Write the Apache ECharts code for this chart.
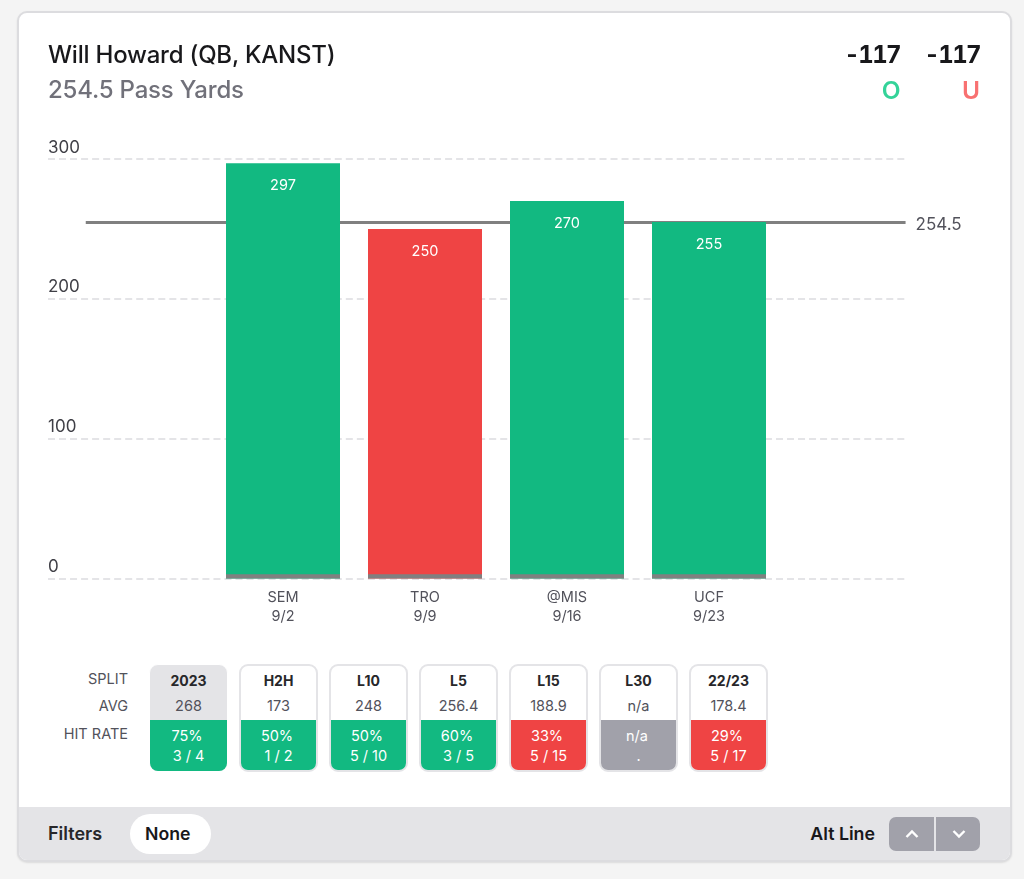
<!DOCTYPE html>
<html>
<head>
<meta charset="utf-8">
<title>Will Howard Pass Yards</title>
<script src="https://cdn.jsdelivr.net/npm/echarts@6/dist/echarts.min.js"></script>
<style>
  * { box-sizing: border-box; }
  html, body { margin: 0; width: 1024px; height: 879px; overflow: hidden; background: #f4f4f4; font-family: Inter, "Noto Sans", sans-serif; }
  .card { position: absolute; left: 17px; top: 11px; width: 995px; height: 851px; background: #fff; border: 2px solid #dcdcdf; border-radius: 10px; overflow: hidden; box-shadow: 0 1px 2px rgba(0,0,0,.1); }
  .txt { position: absolute; white-space: nowrap; line-height: 30px; height: 30px; }
  .odds { font-size: 24px; font-weight: 700; color: #18181b; font-variant-numeric: tabular-nums; letter-spacing: -1.6px; }
  #chart { position: absolute; left: 0; top: 0; width: 1024px; height: 660px; }
  .rowlabel { position: absolute; right: 896px; font-size: 14.5px; line-height: 18px; color: #52525b; }
  .split { position: absolute; top: 664px; width: 79px; height: 108px; border: 2px solid #e4e4e7; border-radius: 9px; overflow: hidden; text-align: center; background: #fff; color: #3f3f46; }
  .split.active { background: #e4e4e7; border: 1px solid #fff; border-radius: 9px; }
  .split .name { position: absolute; left: 0; right: 0; top: 6px; font-size: 14px; line-height: 18px; font-weight: 700; color: #27272a; }
  .split .avg { position: absolute; left: 0; right: 0; top: 31px; font-size: 14.5px; line-height: 18px; color: #52525b; }
  .split .hit { position: absolute; left: 0; right: 0; top: 54px; bottom: 0; color: #fff; font-size: 14.5px; line-height: 20px; padding-top: 6px; }
  .split.active .name { top: 7px; }
  .split.active .avg { top: 32px; }
  .split.active .hit { top: 55px; }
  .split .hit div:first-child { padding-right: 3px; }
  .footer { position: absolute; left: 19px; top: 807px; width: 991px; height: 53px; background: #e4e4e7; border-radius: 0 0 8px 8px; }
  .pill { position: absolute; left: 130px; top: 814px; width: 81px; height: 40px; border-radius: 20px; background: #fff; }
  .btn { position: absolute; top: 817px; height: 34px; background: #a1a1aa; }
  .btn svg { position: absolute; left: 16px; top: 11px; }
</style>
</head>
<body>
<div class="card"></div>
<div class="footer"></div>
<div id="chart"></div>

<div class="txt" style="left:48px;top:40px;font-size:24px;font-weight:500;letter-spacing:-0.22px;color:#18181b;">Will Howard (QB, KANST)</div>
<div class="txt" style="left:48px;top:75px;font-size:24px;font-weight:500;letter-spacing:-0.2px;color:#71717a;">254.5 Pass Yards</div>
<div class="txt odds" style="right:124px;top:40px;">-117</div>
<div class="txt odds" style="right:44px;top:40px;">-117</div>
<div class="txt" style="right:123.5px;top:75px;font-size:24.5px;font-weight:600;color:#34d399;">O</div>
<div class="txt" style="right:44px;top:75px;font-size:24.5px;font-weight:600;color:#f87171;">U</div>

<div class="rowlabel" style="top:670px;">SPLIT</div>
<div class="rowlabel" style="top:697px;">AVG</div>
<div class="rowlabel" style="top:725px;">HIT RATE</div>
<div id="splits"></div>

<div class="txt" style="left:48px;top:819px;font-size:18px;font-weight:600;color:#27272a;">Filters</div>
<div class="pill"></div>
<div class="txt" style="left:145px;top:819px;font-size:17.7px;font-weight:600;color:#18181b;">None</div>
<div class="txt" style="right:149px;top:819px;font-size:17.8px;font-weight:600;color:#18181b;">Alt Line</div>
<div class="btn" style="left:889px;width:45px;border-radius:7px 0 0 7px;">
  <svg width="14" height="12" viewBox="0 0 14 12"><path d="M1.5 9 L7 3.5 L12.5 9" fill="none" stroke="#fff" stroke-width="2.4"/></svg>
</div>
<div class="btn" style="left:936px;width:44px;border-radius:0 7px 7px 0;">
  <svg width="14" height="12" viewBox="0 0 14 12"><path d="M1.5 3 L7 8.5 L12.5 3" fill="none" stroke="#fff" stroke-width="2.4"/></svg>
</div>

<script>
// 图表数据
const opponents = ["SEM", "TRO", "@MIS", "UCF"];
const gameDates = ["9/2", "9/9", "9/16", "9/23"];
const passYards = [297, 250, 270, 255];
const propLine = 254.5;
const yTicks = [0, 100, 200, 300];

// 表格数据
const splitNames = ["2023", "H2H", "L10", "L5", "L15", "L30", "22/23"];
const splitAvgs = ["268", "173", "248", "256.4", "188.9", "n/a", "178.4"];
const hitRates = ["75%", "50%", "50%", "60%", "33%", "n/a", "29%"];
const hitCounts = ["3 / 4", "1 / 2", "5 / 10", "3 / 5", "5 / 15", ".", "5 / 17"];
const hitKinds = ["over", "over", "over", "over", "under", "none", "under"];

const GREEN = "#12b981";
const RED = "#ef4444";
const hitColors = { over: GREEN, under: RED, none: "#a1a1aa" };

// 渲染表格
function renderSplits() {
  const box = document.querySelector("#splits");
  box.innerHTML = splitNames
    .map((name, i) => {
      return `<div class="split ${i === 0 ? "active" : ""}" style="left:${149 + i * 90}px">
        <div class="name">${name}</div>
        <div class="avg">${splitAvgs[i]}</div>
        <div class="hit" style="background:${hitColors[hitKinds[i]]}">
          <div>${hitRates[i]}</div><div>${hitCounts[i]}</div>
        </div>
      </div>`;
    })
    .join("");
}

// 渲染柱状图
function renderChart() {
  const myChart = echarts.init(document.querySelector("#chart"), null, { renderer: "canvas" });
  const gridTop = 159;
  const gridBottom = 81.5;
  const option = {
    animation: false,
    grid: [
      // 虚线和盘口线
      { left: 48, right: 118, top: gridTop, bottom: gridBottom },
      // 柱子
      { left: 212, width: 568, top: gridTop, bottom: gridBottom },
    ],
    xAxis: [
      { gridIndex: 0, type: "value", min: 0, max: 1, show: false },
      {
        gridIndex: 1,
        type: "category",
        data: opponents.map((name, i) => `${name}\n${gameDates[i]}`),
        axisLine: { show: false },
        axisTick: { show: false },
        axisLabel: { color: "#52525b", fontSize: 14.5, lineHeight: 19, margin: 10, fontFamily: "Inter" },
      },
    ],
    yAxis: [
      {
        gridIndex: 0,
        type: "value",
        min: yTicks[0],
        max: yTicks[yTicks.length - 1],
        interval: 100,
        axisLine: { show: false },
        axisTick: { show: false },
        axisLabel: {
          inside: true,
          margin: 0,
          color: "#3f3f46",
          fontSize: 17,
          fontFamily: "Inter",
          verticalAlign: "bottom",
          padding: [0, 0, 3, 0],
        },
        splitLine: { lineStyle: { color: "#e4e4e7", width: 2, type: [7, 4.03] } },
      },
      { gridIndex: 1, type: "value", min: yTicks[0], max: yTicks[yTicks.length - 1], show: false },
    ],
    series: [
      {
        name: "盘口",
        type: "line",
        xAxisIndex: 0,
        yAxisIndex: 0,
        z: 1,
        symbol: "none",
        silent: true,
        data: [
          [0.044, propLine],
          [0.9995, propLine],
        ],
        lineStyle: { color: "#808080", width: 3 },
        endLabel: {
          show: true,
          formatter: String(propLine),
          color: "#52525b",
          fontSize: 17,
          fontFamily: "Inter",
          distance: 10,
          offset: [0, 2],
        },
      },
      {
        name: "传球码数",
        type: "bar",
        xAxisIndex: 1,
        yAxisIndex: 1,
        z: 2,
        barWidth: 114,
        barGap: "-100%",
        data: passYards.map((value) => {
          return { value, itemStyle: { color: value > propLine ? GREEN : RED } };
        }),
        label: {
          show: true,
          position: "insideTop",
          distance: 15,
          color: "#fff",
          fontSize: 14.5,
          fontFamily: "Inter",
        },
      },
      {
        // 柱子底部的灰条
        name: "底线",
        type: "bar",
        xAxisIndex: 1,
        yAxisIndex: 1,
        z: 3,
        barWidth: 114,
        barGap: "-100%",
        silent: true,
        data: opponents.map(() => 3),
        itemStyle: { color: "#808080" },
      },
    ],
  };
  myChart.setOption(option);
}

renderSplits();
renderChart();
</script>
</body>
</html>
